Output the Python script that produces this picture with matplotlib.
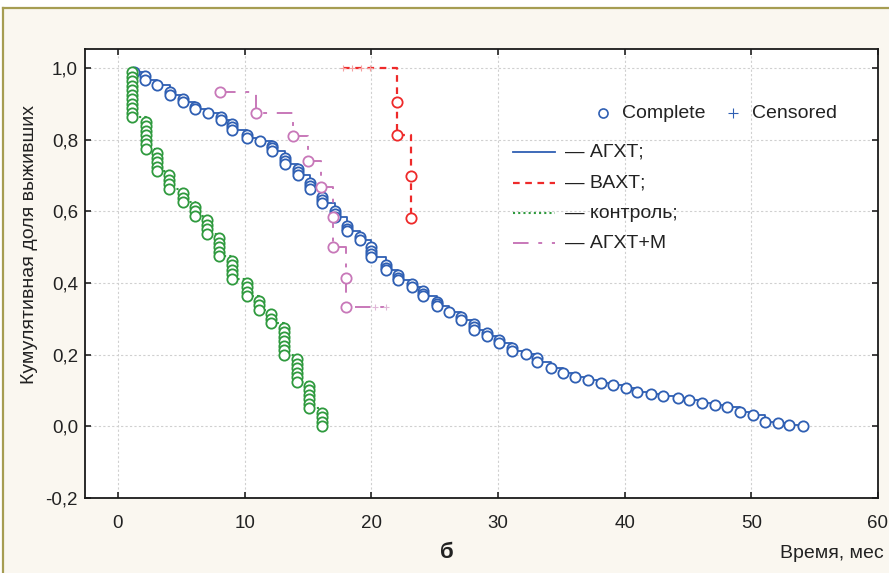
import matplotlib
matplotlib.use('Agg')
import matplotlib.pyplot as plt
from matplotlib.lines import Line2D
from matplotlib.patches import Rectangle
import numpy as np

plt.rcParams['font.family'] = ['Liberation Sans', 'DejaVu Sans']

# ---------------- data ----------------
# АГХТ (blue) – each circle: time, cumulative survival
agxt_t = [1.3, 2.1, 2.1, 3.1, 4.1, 4.1, 5.1, 5.1, 6.1, 6.1, 7.1, 8.1, 8.1,
          9.0, 9.0, 9.0, 10.2, 10.2, 11.2, 12.2, 12.2, 12.2, 13.2, 13.2, 13.2,
          14.2, 14.2, 14.2, 15.2, 15.2, 15.2, 16.1, 16.1, 16.1, 17.1, 17.1, 17.1,
          18.1, 18.1, 18.1, 19.1, 19.1, 20.0, 20.0, 20.0, 20.0, 21.2, 21.2, 21.2,
          22.1, 22.1, 22.1, 23.2, 23.2, 24.1, 24.1, 24.1, 25.2, 25.2, 25.2, 26.1,
          27.1, 27.1, 28.1, 28.1, 28.1, 29.1, 29.1, 30.1, 30.1, 31.1, 31.1, 32.2,
          33.1, 33.1, 34.2, 35.1, 36.1, 37.1, 38.1, 39.1, 40.1, 41.0, 42.1, 43.0,
          44.2, 45.1, 46.1, 47.1, 48.1, 49.1, 50.1, 51.1, 52.1, 53.0, 54.1]
agxt_s = [0.990, 0.978, 0.966, 0.952, 0.932, 0.925, 0.913, 0.906, 0.892, 0.886, 0.875, 0.862, 0.855,
          0.843, 0.835, 0.826, 0.812, 0.805, 0.797, 0.783, 0.776, 0.768, 0.749, 0.741, 0.733,
          0.718, 0.710, 0.701, 0.680, 0.672, 0.663, 0.640, 0.631, 0.622, 0.600, 0.592, 0.584,
          0.560, 0.552, 0.544, 0.527, 0.520, 0.500, 0.490, 0.480, 0.472, 0.450, 0.443, 0.436,
          0.422, 0.415, 0.408, 0.396, 0.390, 0.378, 0.370, 0.364, 0.348, 0.340, 0.336, 0.318,
          0.306, 0.298, 0.286, 0.278, 0.270, 0.260, 0.252, 0.240, 0.233, 0.219, 0.210, 0.202,
          0.190, 0.180, 0.162, 0.148, 0.137, 0.128, 0.120, 0.114, 0.106, 0.096, 0.091, 0.084,
          0.078, 0.074, 0.065, 0.059, 0.053, 0.040, 0.031, 0.012, 0.008, 0.004, 0.000]

# ВАХТ (red)
vaxt_t = [22.05, 22.05, 23.15, 23.15]
vaxt_s = [0.905, 0.813, 0.698, 0.581]
vaxt_cens_t = [17.8, 18.5, 19.2, 19.9]
vaxt_cens_s = [1.0, 1.0, 1.0, 1.0]

# контроль (green) – event times and number of deaths at each time
ctrl_n = 80
ctrl_times = [1.1, 2.2, 3.1, 4.0, 5.1, 6.1, 7.0, 8.0, 9.0, 10.2, 11.1, 12.1, 13.1, 14.1, 15.1, 16.1]
ctrl_deaths = [11, 7, 5, 4, 3, 3, 4, 5, 5, 4, 3, 3, 7, 6, 6, 4]

# АГХТ+М (pink)
agxtm_t = [8.05, 10.9, 13.85, 15.0, 16.0, 16.95, 16.95, 18.0, 18.0]
agxtm_s = [0.933, 0.874, 0.810, 0.740, 0.667, 0.584, 0.500, 0.413, 0.332]
agxtm_cens_t = [20.3, 21.2]
agxtm_cens_s = [0.332, 0.332]

yticks = [-0.2, 0.0, 0.2, 0.4, 0.6, 0.8, 1.0]
xticks = [0, 10, 20, 30, 40, 50, 60]

# ---------------- green per-circle values from counts ----------------
ctrl_t, ctrl_s = [], []
dead = 0
for t, d in zip(ctrl_times, ctrl_deaths):
    for _ in range(d):
        dead += 1
        ctrl_t.append(t)
        ctrl_s.append(1 - dead / ctrl_n)

# ---------------- figure ----------------
W, H = 889, 573
fig = plt.figure(figsize=(W / 100, H / 100), dpi=100)
fig.patch.set_facecolor('white')
fig.add_artist(Rectangle((3 / W, 0), 1, 1 - 8 / H, transform=fig.transFigure,
                         facecolor='#faf7f0', edgecolor='none', zorder=-10))
fig.add_artist(Line2D([3 / W, 1], [1 - 8 / H, 1 - 8 / H], transform=fig.transFigure,
                      color='#a69d52', lw=1.6, zorder=-5))
fig.add_artist(Line2D([3 / W, 3 / W], [0, 1 - 8 / H], transform=fig.transFigure,
                      color='#a69d52', lw=1.6, zorder=-5))

L, R, T, B = 85, 878, 49, 498
ax = fig.add_axes([L / W, 1 - B / H, (R - L) / W, (B - T) / H])
ax.set_facecolor('white')
ax.set_xlim(-2.6, 60)
ax.set_ylim(-0.2, 1.053)
ax.set_xticks(xticks)
ax.set_yticks(yticks)
ax.set_xticklabels([str(v) for v in xticks])
ax.set_yticklabels([f"{v:.1f}".replace('.', ',') for v in yticks])
ax.tick_params(direction='in', length=4, width=1.2, top=True, right=True,
               labelsize=13.5, colors='#222222')
ax.tick_params(axis='x', pad=12)
ax.tick_params(axis='y', pad=5)
for sp in ax.spines.values():
    sp.set_linewidth(1.3)
    sp.set_color('#1a1a1a')
ax.grid(True, color='#d0d0d0', linestyle=(0, (2, 2)), linewidth=0.8)
ax.set_axisbelow(True)

BLUE = '#2f5fb3'
RED = '#ee2a2a'
GREEN = '#2f9a3e'
PINK = '#c878b9'


def km(t, s, ct, cs, color, ls, lw, z, cens_color=None):
    pts = sorted(zip(list(t) + list(ct), list(s) + list(cs)), key=lambda p: (p[0], -p[1]))
    xs = [p[0] for p in pts]
    ys = [p[1] for p in pts]
    ax.plot(xs, ys, drawstyle='steps-post', color=color, linestyle=ls, lw=lw, zorder=z)
    ax.plot(t, s, 'o', ms=7.4, mfc='white', mec=color, mew=1.3, linestyle='none', zorder=z + 0.5)
    if ct:
        ax.plot(ct, cs, '+', ms=5, mew=0.8, color=cens_color or color, linestyle='none', zorder=z + 0.6)


km(agxt_t, agxt_s, [], [], BLUE, '-', 1.3, 3)
km(vaxt_t, vaxt_s, vaxt_cens_t, vaxt_cens_s, RED, (0, (3, 2.5)), 1.6, 4, cens_color='#f4a0a0')
km(ctrl_t, ctrl_s, [], [], GREEN, (0, (1, 1.5)), 1.5, 5)
km(agxtm_t, agxtm_s, agxtm_cens_t, agxtm_cens_s, PINK, (0, (8, 5, 2, 5)), 1.4, 6, cens_color='#e0b8d8')

# ---------------- legend (manual) ----------------
def axf(px, py):
    return (px - L) / (R - L), (B - py) / (B - T)

tr = ax.transAxes
TXT = 14
x0, y0 = axf(603, 113)
ax.plot([x0], [y0], 'o', ms=6.5, mfc='white', mec=BLUE, mew=1.2, transform=tr, clip_on=False, zorder=10)
x1, _ = axf(622, 113)
ax.text(x1, y0, 'Complete', transform=tr, fontsize=TXT, va='center', ha='left', color='#222222')
x2, _ = axf(733, 113)
ax.plot([x2], [y0], '+', ms=7, mew=0.8, color=BLUE, transform=tr, clip_on=False, zorder=10)
x3, _ = axf(752, 113)
ax.text(x3, y0, 'Censored', transform=tr, fontsize=TXT, va='center', ha='left', color='#222222')

leg_labels = ['— АГХТ;', '— ВАХТ;', '— контроль;', '— АГХТ+М']
leg_colors = [BLUE, RED, GREEN, PINK]
leg_styles = ['-', (0, (3, 2.5)), (0, (1, 1.5)), (0, (8, 5, 2, 5))]
leg_widths = [1.3, 1.6, 1.5, 1.4]
leg_rows = [152, 183, 213, 243]
for lab, c, ls, lw, py in zip(leg_labels, leg_colors, leg_styles, leg_widths, leg_rows):
    xa, ya = axf(513, py)
    xb, _ = axf(555, py)
    ax.plot([xa, xb], [ya, ya], color=c, linestyle=ls, lw=lw, transform=tr, zorder=10)
    xt, _ = axf(565, py)
    ax.text(xt, ya, lab, transform=tr, fontsize=TXT, va='center', ha='left', color='#222222')

# ---------------- labels ----------------
fig.text(30 / W, 1 - 245 / H, 'Кумулятивная доля выживших', rotation=90,
         ha='center', va='center', fontsize=14, color='#222222')
fig.text(884 / W, 1 - 553 / H, 'Время, мес', ha='right', va='center', fontsize=14, color='#222222')
fig.text(447 / W, 1 - 553 / H, 'б', ha='center', va='center', fontsize=16,
         fontweight='bold', color='#222222')

fig.savefig('out.png', dpi=100, facecolor=fig.get_facecolor())
